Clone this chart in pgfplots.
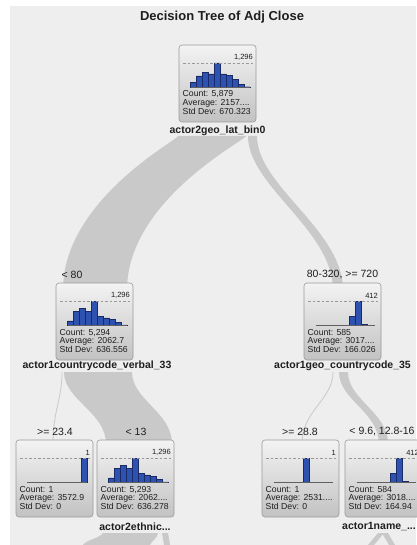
\documentclass[border=0pt]{standalone}
\usepackage{pgfplots}
\pgfplotsset{compat=1.18}
\usepackage{fontspec}
\setmainfont{Liberation Sans}

\definecolor{bg}{HTML}{EEEEEE}
\definecolor{rib}{HTML}{C9C9C9}
\definecolor{barfill}{HTML}{2D52B0}
\definecolor{baredge}{HTML}{1A2A66}
\definecolor{boxedge}{HTML}{9A9A9A}
\definecolor{boxtop}{HTML}{F3F3F3}
\definecolor{boxbot}{HTML}{C2C2C2}
\definecolor{txt}{HTML}{1E1E1E}

\pgfplotsset{hist/.style={
    scale only axis, width=59.5pt, height=24.5pt, anchor=south west,
    xmin=0, xmax=10, ymin=0, hide axis, clip=false,
    ybar, bar width=5.95pt, bar shift=0pt,
}}

% box: x, top y, count, average, std dev
\newcommand{\nodebox}[5]{%
  \shade[rounded corners=3pt, top color=boxtop, bottom color=boxbot] (#1,#2) rectangle ++(77,77);
  \draw[boxedge, rounded corners=3pt, line width=0.6pt] (#1,#2) rectangle ++(77,77);
  \node[anchor=base west, txt, font=\fontsize{8.7}{9}\selectfont, inner sep=0pt] at ({#1+3.5},{#2+52}) {Count: #3};
  \node[anchor=base west, txt, font=\fontsize{8.7}{9}\selectfont, inner sep=0pt] at ({#1+3.5},{#2+60.7}) {Average: #4};
  \node[anchor=base west, txt, font=\fontsize{8.7}{9}\selectfont, inner sep=0pt] at ({#1+3.5},{#2+69.4}) {Std Dev: #5};
}

% histogram: x, top y, ymax, max label, coordinates
\newcommand{\hist}[5]{%
  \coordinate (h) at ({#1+11.5},{#2+42.5});
  \begin{axis}[hist, at={(h)}, ymax=#3]
    \addplot[fill=barfill, draw=baredge, line width=0.4pt] coordinates {#5};
    \draw[gray!75!black, line width=0.6pt] (rel axis cs:0,0) -- (rel axis cs:1,0);
    \draw[gray!80, line width=0.6pt, dash pattern=on 2.5pt off 2pt] (rel axis cs:-0.126,1) -- (rel axis cs:1.05,1);
    \node[anchor=south east, txt, font=\fontsize{7.5}{8}\selectfont, inner sep=0pt, yshift=2pt] at (rel axis cs:1.05,1) {#4};
  \end{axis}
}

\begin{document}
\begin{tikzpicture}[x=1pt, y=-1pt]
\useasboundingbox (0,0) rectangle (416,545);
\fill[bg] (0,0) rectangle (416,545);
\fill[white] (0,0) rectangle (10,545);
\fill[white] (0,0) rectangle (416,6);

\node[font=\fontsize{13}{15}\selectfont\bfseries, txt] at (222,17) {Decision Tree of Adj Close};

% ribbons
\fill[rib] (178,136) .. controls (178,140) and (63,200) .. (63,290) -- (127,290) .. controls (127,200) and (246,140) .. (246,136) -- cycle;
\fill[rib] (248,136) .. controls (248,186) and (333,230) .. (333,290) -- (343,290) .. controls (343,230) and (257,186) .. (257,136) -- cycle;
\draw[rib, line width=0.8pt] (62,372) .. controls (62,400) and (53,410) .. (53,444);
\fill[rib] (64,372) .. controls (64,400) and (106,412) .. (106,444) -- (172,444) .. controls (172,412) and (132,400) .. (132,372) -- cycle;
\draw[rib, line width=0.8pt] (333,372) .. controls (333,400) and (302,410) .. (302,444);
\fill[rib] (339,372) .. controls (339,400) and (379,412) .. (379,444) -- (388,444) .. controls (388,412) and (348,400) .. (348,372) -- cycle;
\fill[rib] (103,533) .. controls (100,538) and (86,540) .. (83,545) -- (150,545) .. controls (152,540) and (158,538) .. (158,533) -- cycle;
\fill[rib] (162,533) -- (168,533) -- (170,545) -- (164,545) -- cycle;
\fill[rib] (378,533) -- (384,533) -- (374,545) -- (368,545) -- cycle;
\fill[rib] (382,533) -- (388,533) -- (395,545) -- (389,545) -- cycle;

% root
\nodebox{179}{45}{5,879}{2157....}{670.323}
\hist{179}{45}{1296}{1,296}{(0.5,280) (1.5,620) (2.5,800) (3.5,720) (4.5,1296) (5.5,720) (6.5,650) (7.5,430) (8.5,150) (9.5,40)}
\node[font=\fontsize{10.5}{12}\selectfont\bfseries, txt] at (217.5,131) {actor2geo\_lat\_bin0};

% level 1
\node[font=\fontsize{10.5}{12}\selectfont, txt] at (72,275) {< 80};
\nodebox{56}{283}{5,294}{2062.7}{636.556}
\hist{56}{283}{1296}{1,296}{(0.5,240) (1.5,760) (2.5,910) (3.5,760) (4.5,1296) (5.5,490) (6.5,405) (7.5,320) (8.5,150) (9.5,39)}
\node[font=\fontsize{10.5}{12}\selectfont\bfseries, txt] at (97,366) {actor1countrycode\_verbal\_33};

\node[font=\fontsize{10.5}{12}\selectfont, txt] at (342.5,275) {80-320, >= 720};
\nodebox{304}{283}{585}{3017....}{166.026}
\hist{304}{283}{412}{412}{(5.2,8) (6.2,150) (7.2,412) (8.2,15)}
\node[font=\fontsize{10.5}{12}\selectfont\bfseries, txt] at (342.5,366) {actor1geo\_countrycode\_35};

% level 2
\node[font=\fontsize{10.5}{12}\selectfont, txt] at (55,432) {>= 23.4};
\nodebox{16}{440}{1}{3572.9}{0}
\hist{16}{440}{1}{1}{(9.5,1)}

\node[font=\fontsize{10.5}{12}\selectfont, txt] at (136,432) {< 13};
\nodebox{97}{440}{5,293}{2062....}{636.278}
\hist{97}{440}{1296}{1,296}{(0.5,240) (1.5,760) (2.5,910) (3.5,760) (4.5,1296) (5.5,490) (6.5,405) (7.5,320) (8.5,150) (9.5,38)}
\node[font=\fontsize{10.5}{12}\selectfont\bfseries, txt] at (135,527) {actor2ethnic...};

\node[font=\fontsize{10.5}{12}\selectfont, txt] at (300,432) {>= 28.8};
\nodebox{262}{440}{1}{2531....}{0}
\hist{262}{440}{1}{1}{(5.5,1)}

\node[font=\fontsize{10.5}{12}\selectfont, txt] at (382,432) {< 9.6, 12.8-16};
\nodebox{345}{440}{584}{3018....}{164.94}
\hist{345}{440}{412}{412}{(5.2,7) (6.2,150) (7.2,412) (8.2,15)}
\node[font=\fontsize{10.5}{12}\selectfont\bfseries, txt] at (379,527) {actor1name\_...};
\end{tikzpicture}
\end{document}
